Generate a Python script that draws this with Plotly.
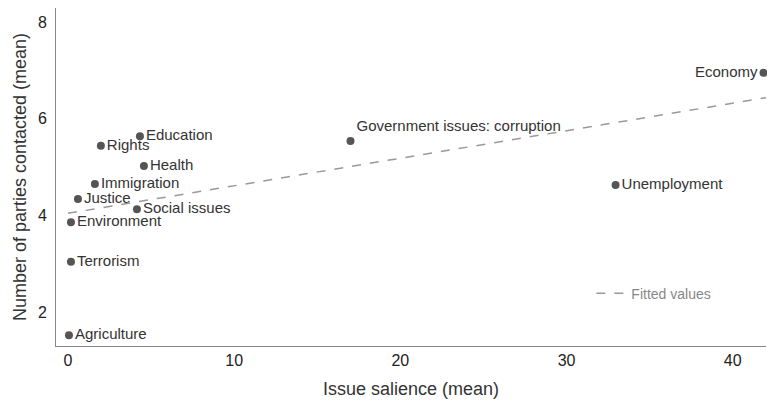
import numpy as np
import plotly.graph_objects as go

issues = ["Agriculture", "Terrorism", "Environment", "Justice", "Immigration", "Rights",
          "Education", "Health", "Social issues", "Government issues: corruption",
          "Unemployment", "Economy"]
salience = [0.06, 0.18, 0.18, 0.6, 1.62, 1.98, 4.33, 4.57, 4.15, 17.0, 32.95, 41.85]
parties = [1.52, 3.04, 3.86, 4.34, 4.65, 5.44, 5.64, 5.02, 4.13, 5.54, 4.63, 6.95]
label_pos = ["middle right"] * 9 + ["top right", "middle right", "middle left"]

x_ticks = [0, 10, 20, 30, 40]
y_ticks = [2, 4, 6, 8]

slope, intercept = np.polyfit(salience, parties, 1)
fit_x = [0, 42]
fit_y = [intercept + slope * v for v in fit_x]

FONT = "Liberation Sans, Arial, sans-serif"

fig = go.Figure()
fig.add_trace(go.Scatter(
    x=salience, y=parties, mode="markers+text", text=issues,
    textposition=label_pos, marker=dict(color="#555555", size=8),
    textfont=dict(family=FONT, size=15, color="#333333"),
    showlegend=False, cliponaxis=False))
fig.add_trace(go.Scatter(
    x=fit_x, y=fit_y, mode="lines", name="Fitted values",
    line=dict(color="#999999", width=1.5, dash="dash")))

fig.update_layout(
    width=767, height=402,
    margin=dict(l=56, r=1, t=8, b=56),
    paper_bgcolor="white", plot_bgcolor="white",
    font=dict(family=FONT, color="#222222"),
    legend=dict(x=0.754, y=0.155, xanchor="left", yanchor="middle", itemwidth=30,
                font=dict(size=14, color="#888888"), bgcolor="rgba(0,0,0,0)"),
    xaxis=dict(range=[-0.72, 42.0], tickvals=x_ticks, showgrid=False, zeroline=False,
               showline=True, linecolor="#888888", linewidth=1, ticks="", automargin=False,
               tickfont=dict(size=16),
               title=dict(text="Issue salience (mean)", font=dict(size=18, color="#333333"), standoff=14)),
    yaxis=dict(range=[1.3, 8.29], tickvals=y_ticks, showgrid=False, zeroline=False,
               showline=True, linecolor="#888888", linewidth=1, ticks="outside", ticklen=5,
               tickcolor="rgba(0,0,0,0)", automargin=False,
               tickfont=dict(size=16),
               title=dict(text="Number of parties contacted (mean)", font=dict(size=18, color="#333333"), standoff=6)),
)
fig.write_html(
    "out.html",
    config={"displayModeBar": False},
    post_script="document.body.style.margin='0';document.documentElement.style.overflow='hidden';",
)
